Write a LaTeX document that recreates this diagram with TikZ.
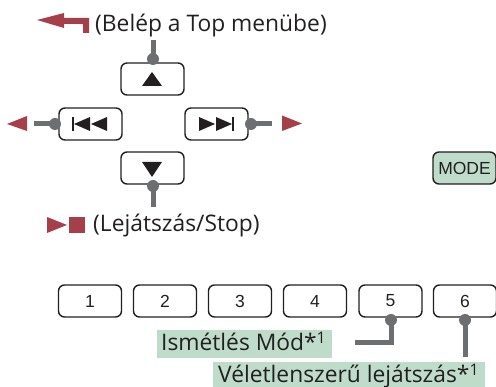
\documentclass[tikz,border=0pt]{standalone}
\usepackage{fontspec}
\setmainfont{Open Sans}
\newfontfamily\btnfont{Liberation Sans}
\definecolor{redmark}{HTML}{A5404A}
\definecolor{leadgray}{HTML}{6D6E72}
\definecolor{hilite}{HTML}{BFDCCB}
\definecolor{inkblack}{HTML}{231F20}
\tikzset{
  btn/.style={draw=inkblack,line width=1.4pt,rounded corners=6pt,minimum width=63pt,minimum height=32pt,inner sep=0pt,font=\btnfont\fontsize{17.5}{17.5}\selectfont,text=inkblack},
  dot/.style={circle,fill=leadgray,minimum size=12pt,inner sep=0pt},
  lead/.style={draw=leadgray,line width=5pt},
  caption/.style={inner sep=0pt,text=inkblack,font=\fontsize{22.8}{22.8}\selectfont,anchor=base west},
  band/.style={fill=hilite,inner sep=0pt,anchor=north west},
  redshape/.style={fill=redmark},
  blackshape/.style={fill=inkblack}
}
\begin{document}
\begin{tikzpicture}[x=1pt,y=-1pt]
\useasboundingbox (0,0) rectangle (496,387);
% bands
\node[band,minimum width=175pt,minimum height=28pt] (b1) at (157,330) {};
\node[band,minimum width=272pt,minimum height=25pt] (b2) at (213,362) {};
% buttons
\node[btn] (up) at (152.5,79) {};
\node[btn] (prev) at (90.5,124) {};
\node[btn] (next) at (216.5,124) {};
\node[btn] (down) at (152.5,168) {};
\node[btn,fill=hilite] (mode) at (464.5,168) {MODE};
\node[btn] (n1) at (90,301) {1};
\node[btn] (n2) at (165,301) {2};
\node[btn] (n3) at (240,301) {3};
\node[btn] (n4) at (315,301) {4};
\node[btn] (n5) at (390.5,301) {5};
\node[btn] (n6) at (465,301) {6};
% icons in buttons
\fill[blackshape] (142,86) -- (162,86) -- (152,72) -- cycle;
\fill[blackshape] (142,162) -- (162,162) -- (152,177) -- cycle;
\fill[blackshape] (72.4,117) rectangle (73.6,131);
\fill[blackshape] (74,124) -- (90,117) -- (90,131) -- cycle;
\fill[blackshape] (91,124) -- (107,117) -- (107,131) -- cycle;
\fill[blackshape] (232.4,117) rectangle (233.6,131);
\fill[blackshape] (232,124) -- (216,117) -- (216,131) -- cycle;
\fill[blackshape] (215,124) -- (199,117) -- (199,131) -- cycle;
% dots and leads
\coordinate (eup) at (153,40);
\coordinate (eprev) at (34,124);
\coordinate (enext) at (272,124);
\coordinate (edown) at (153,207);
\coordinate (efive) at (355,343);
\coordinate (ecorner) at (391,343);
\coordinate (esix) at (465,357);
\node[dot] (dup) at (153,59) {};
\node[dot] (dprev) at (55,124) {};
\node[dot] (dnext) at (251,124) {};
\node[dot] (ddown) at (153,186) {};
\node[dot] (dfive) at (391,320) {};
\node[dot] (dsix) at (465,320) {};
\draw[lead] (dup.center) -- (eup);
\draw[lead] (dprev.center) -- (eprev);
\draw[lead] (dnext.center) -- (enext);
\draw[lead] (ddown.center) -- (edown);
\draw[lead,miter limit=10] (dfive.center) -- (ecorner) -- (efive);
\draw[lead] (dsix.center) -- (esix);
% red marks
\fill[redshape] (37,20) -- (64,13) -- (64,18) -- (89,18) -- (89,33) -- (83,33) -- (83,24) -- (64,24) -- (64,28) -- cycle;
\fill[redshape] (7,124) -- (27,116) -- (27,131) -- cycle;
\fill[redshape] (302,123.5) -- (282,115.5) -- (282,131) -- cycle;
\fill[redshape] (67,225) -- (47,217) -- (47,233) -- cycle;
\fill[redshape] (69,217) rectangle (85,233);
% captions
\node[caption] (t1) at (95,31.5) {(Belép a Top menübe)};
\node[caption] (t2) at (93,232) {(Lejátszás/Stop)};
\node[caption] (t3) at (161,351) {Ismétlés Mód*\textsuperscript{1}};
\node[caption] (t4) at (218,383) {Véletlenszerű lejátszás*\textsuperscript{1}};
\end{tikzpicture}
\end{document}
